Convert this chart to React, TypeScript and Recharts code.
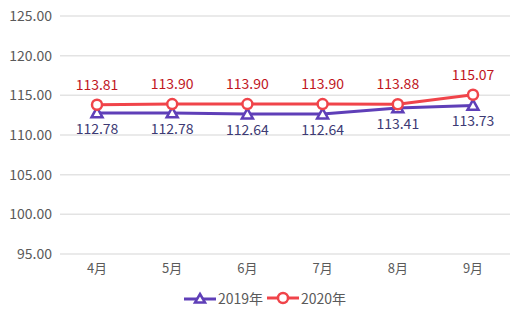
import React from 'react';
import { LineChart, Line, XAxis, YAxis, CartesianGrid, LabelList } from 'recharts';

const months = ['4月', '5月', '6月', '7月', '8月', '9月'];
const values2019 = [112.78, 112.78, 112.64, 112.64, 113.41, 113.73];
const values2020 = [113.81, 113.9, 113.9, 113.9, 113.88, 115.07];
const yTicks = [95, 100, 105, 110, 115, 120, 125];

const PURPLE = '#5f3fb8';
const RED = '#f0444a';
const FONT = '"Noto Sans CJK SC", "Noto Sans", sans-serif';

const data = months.map((m, i) => ({ month: m, y2019: values2019[i], y2020: values2020[i] }));

const TriangleDot = (props: any) => {
  const { cx, cy } = props;
  if (cx == null || cy == null) return null;
  const s = 5.5;
  return (
    <path
      d={`M${cx},${cy - s} L${cx + s},${cy + s * 0.8} L${cx - s},${cy + s * 0.8} Z`}
      fill="#fff"
      stroke={PURPLE}
      strokeWidth={2.5}
    />
  );
};

export default function App() {
  return (
    <div style={{ position: 'absolute', left: 0, top: 0, width: 520, height: 313, background: '#fff', fontFamily: FONT }}>
      <LineChart width={520} height={313} data={data} margin={{ top: 16, right: 10, left: 0, bottom: 29 }}>
        <CartesianGrid vertical={false} stroke="#e3e3e3" strokeWidth={1.5} />
        <XAxis
          dataKey="month"
          axisLine={false}
          tickLine={false}
          padding={{ left: 37, right: 37 }}
          tick={{ fontSize: 13, fill: '#5a5a5a', fontFamily: FONT }}
          tickMargin={4}
          height={30}
        />
        <YAxis
          domain={[95, 125]}
          ticks={yTicks}
          axisLine={false}
          tickLine={false}
          width={60}
          tickFormatter={(v) => Number(v).toFixed(2)}
          tick={{ fontSize: 14, fill: '#5a5a5a', fontFamily: FONT }}
        />
        <Line
          dataKey="y2019"
          stroke={PURPLE}
          strokeWidth={3}
          dot={<TriangleDot />}
          isAnimationActive={false}
        >
          <LabelList
            dataKey="y2019"
            position="bottom"
            offset={11}
            formatter={(v: any) => Number(v).toFixed(2)}
            style={{ fontSize: 14, fill: '#3d3a74', fontFamily: FONT }}
          />
        </Line>
        <Line
          dataKey="y2020"
          stroke={RED}
          strokeWidth={3}
          dot={{ r: 5, fill: '#fff', stroke: RED, strokeWidth: 2.5 }}
          isAnimationActive={false}
        >
          <LabelList
            dataKey="y2020"
            position="top"
            offset={15}
            formatter={(v: any) => Number(v).toFixed(2)}
            style={{ fontSize: 14, fill: '#c0161e', fontFamily: FONT }}
          />
        </Line>
      </LineChart>
      <div
        style={{
          position: 'absolute',
          top: 288,
          left: 0,
          width: 520,
          display: 'flex',
          justifyContent: 'center',
          alignItems: 'center',
          fontSize: 14,
          color: '#5a5a5a',
          paddingLeft: 10,
          boxSizing: 'border-box',
        }}
      >
        <svg width={32} height={16} style={{ marginRight: 2 }}>
          <line x1={0} y1={9} x2={32} y2={9} stroke={PURPLE} strokeWidth={3} />
          <path d="M16,4 L21,12.5 L11,12.5 Z" fill="#fff" stroke={PURPLE} strokeWidth={2.5} />
        </svg>
        <span style={{ marginRight: 4 }}>2019年</span>
        <svg width={32} height={16} style={{ marginRight: 2 }}>
          <line x1={0} y1={8} x2={32} y2={8} stroke={RED} strokeWidth={3} />
          <circle cx={16} cy={8} r={5} fill="#fff" stroke={RED} strokeWidth={2.5} />
        </svg>
        <span>2020年</span>
      </div>
    </div>
  );
}
